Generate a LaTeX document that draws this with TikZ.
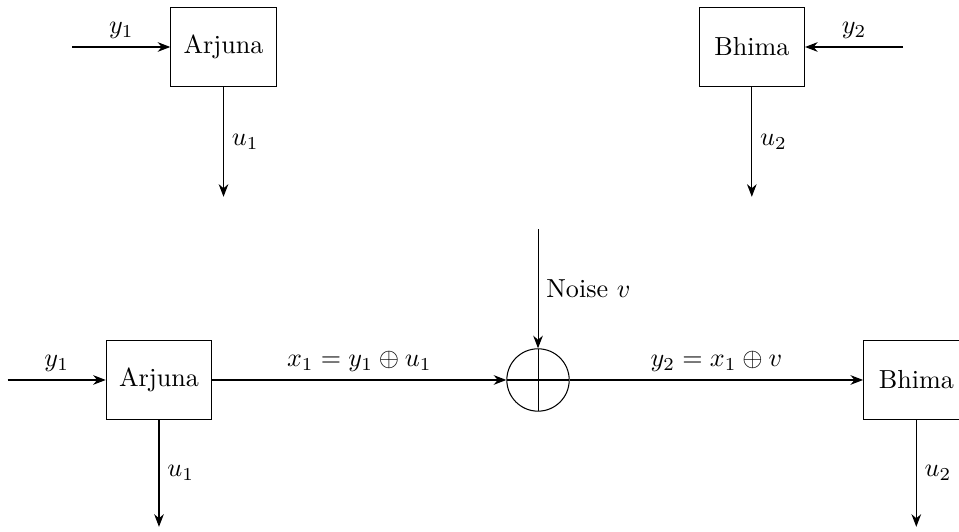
\documentclass[tikz,border=0pt]{standalone}
\usetikzlibrary{arrows.meta, positioning}

\begin{document}
\begin{tikzpicture}[
  blk/.style={draw, minimum width=1.42cm, minimum height=1.06cm, inner sep=2pt},
  sumc/.style={draw, circle, minimum size=0.84cm, inner sep=0pt,
               path picture={\draw (path picture bounding box.north) -- (path picture bounding box.south)
                                  (path picture bounding box.west) -- (path picture bounding box.east);}},
  fl/.style={-{Stealth[length=1.7mm, width=1.3mm]}},
  lab/.style={inner sep=3pt}
]
\useasboundingbox (0,0) rectangle (12.914,-7.164);

% top row
\node[blk] (arj1) at (3.010,-0.633) {Arjuna};
\node[blk, right=5.68cm of arj1] (bhi1) {Bhima};
\coordinate[left=1.32cm of arj1] (in1);
\coordinate[right=1.32cm of bhi1] (in2);
\coordinate[below=1.48cm of arj1] (out1);
\coordinate[below=1.48cm of bhi1] (out2);

\draw[fl] (in1) -- node[lab, above] {$y_1$} (arj1);
\draw[fl] (in2) -- node[lab, above] {$y_2$} (bhi1);
\draw[fl] (arj1) -- node[lab, right] {$u_1$} (out1);
\draw[fl] (bhi1) -- node[lab, right] {$u_2$} (out2);

% bottom row
\node[blk] (arj2) at (2.141,-5.117) {Arjuna};
\node[sumc, right=3.96cm of arj2] (sum) {};
\node[blk, right=3.95cm of sum] (bhi2) {Bhima};
\coordinate[left=1.32cm of arj2] (in3);
\coordinate[above=1.6cm of sum] (nz);
\coordinate[below=1.44cm of arj2] (out3);
\coordinate[below=1.44cm of bhi2] (out4);

\draw[fl] (in3) -- node[lab, above] {$y_1$} (arj2);
\draw[fl] (arj2) -- node[lab, above] {$x_1 = y_1 \oplus u_1$} (sum);
\draw[fl] (nz) -- node[lab, right] {Noise $v$} (sum);
\draw[fl] (sum) -- node[lab, above] {$y_2 = x_1 \oplus v$} (bhi2);
\draw[fl] (arj2) -- node[lab, right] {$u_1$} (out3);
\draw[fl] (bhi2) -- node[lab, right] {$u_2$} (out4);
\end{tikzpicture}
\end{document}
